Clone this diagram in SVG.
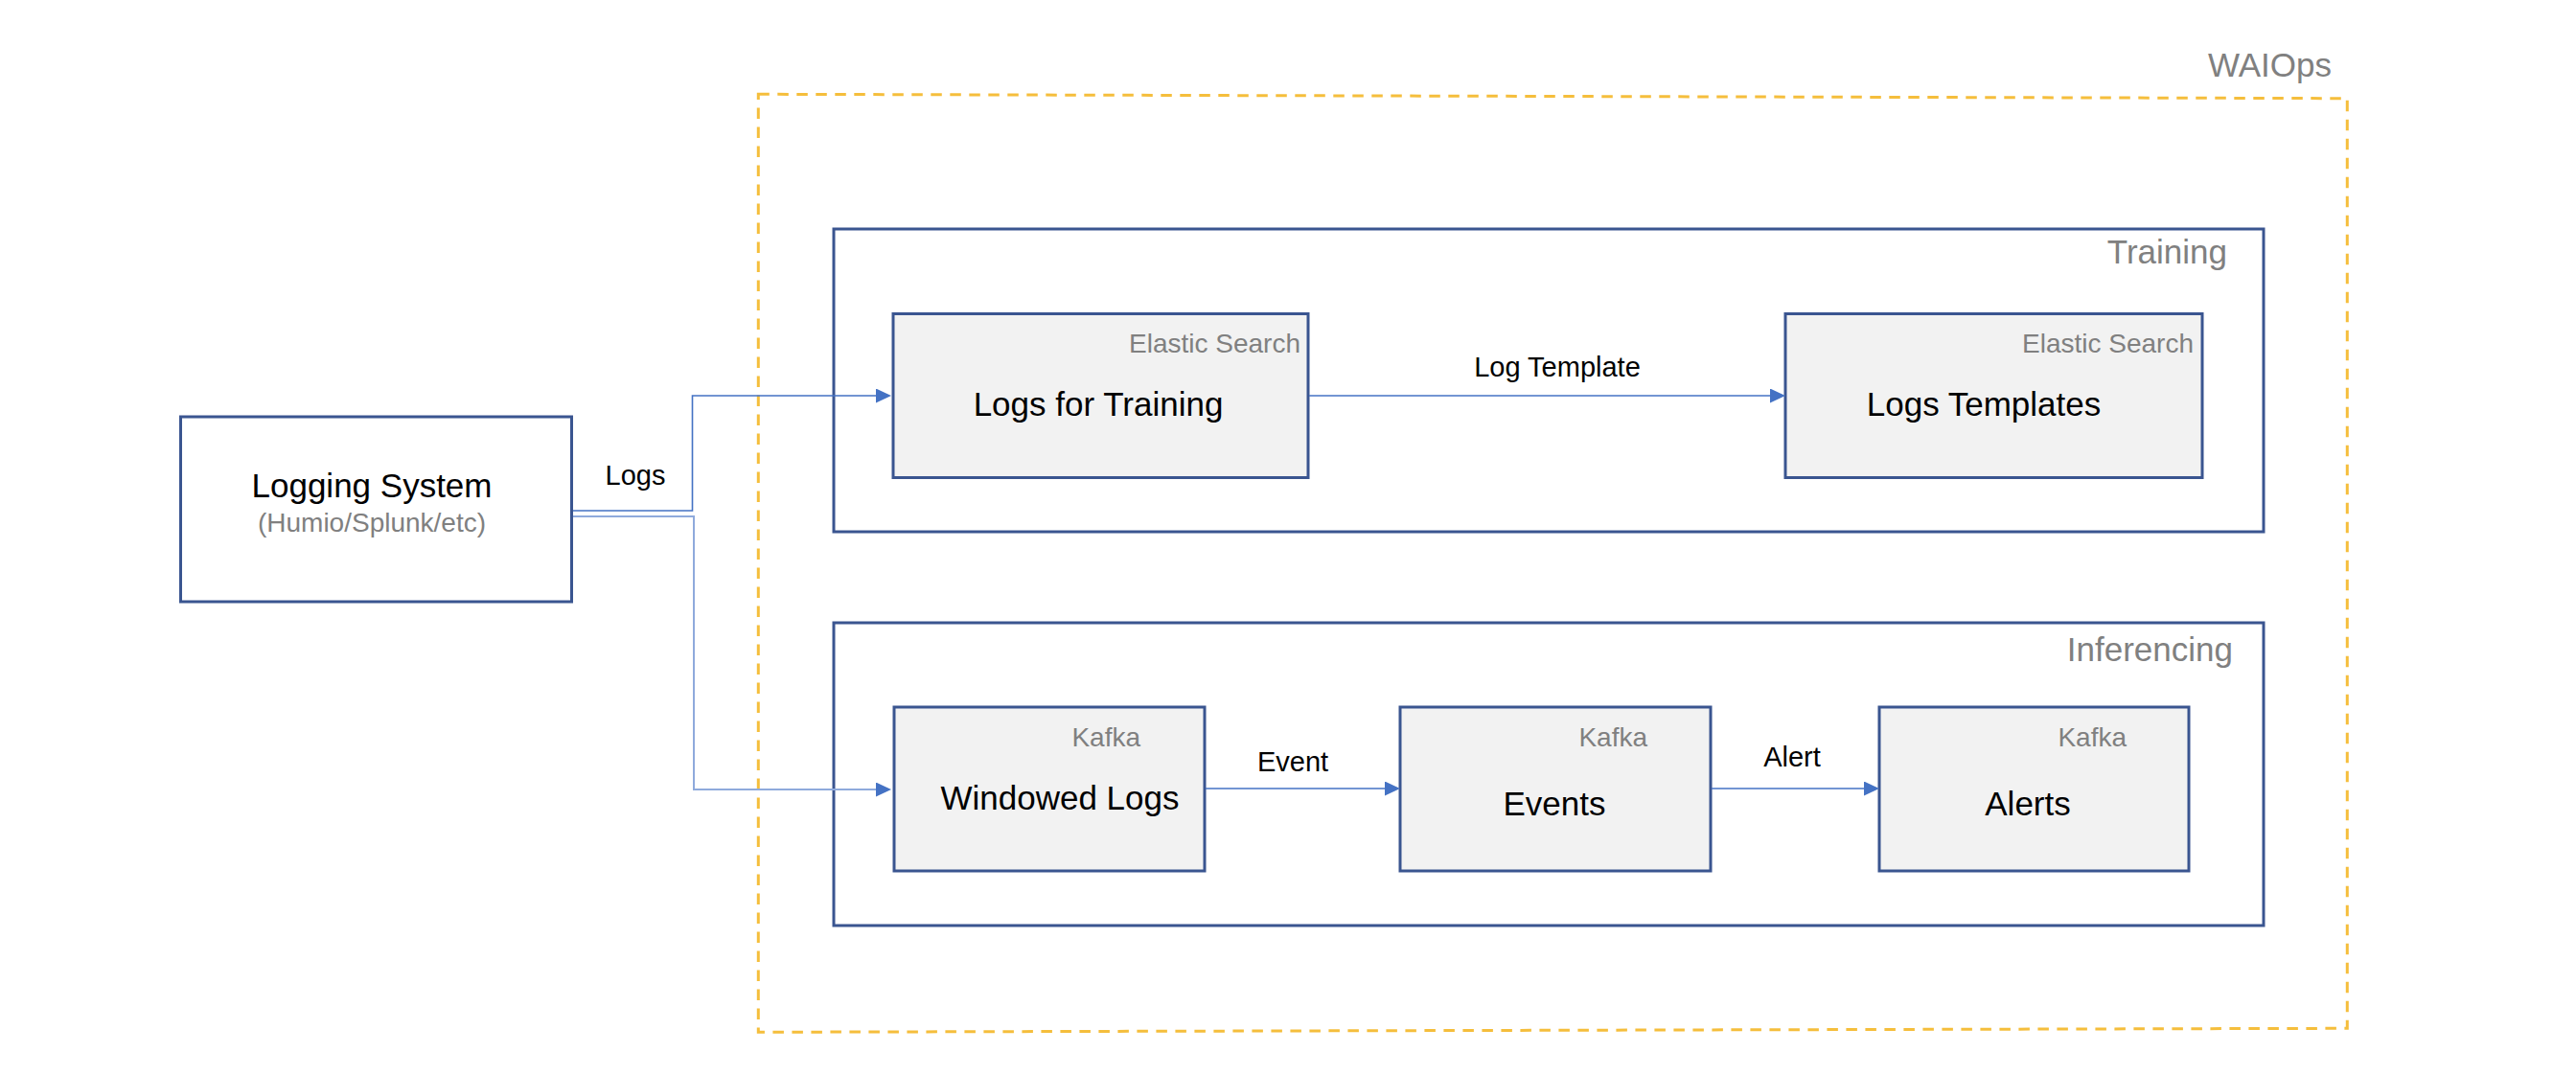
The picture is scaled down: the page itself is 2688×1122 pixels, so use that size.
<svg xmlns="http://www.w3.org/2000/svg" width="2688" height="1122" viewBox="0 0 2688 1122">
<style>
text{font-family:"Liberation Sans",Arial,sans-serif}
.box{fill:#F2F2F2;stroke:#3A5590;stroke-width:3}
.grp{fill:none;stroke:#3A5590;stroke-width:3}
.src{fill:#FFFFFF;stroke:#3A5590;stroke-width:3}
.main{font-size:35px;fill:#000000;text-anchor:middle}
.tag{font-size:28px;fill:#808080;text-anchor:end}
.glabel{font-size:35px;fill:#808080;text-anchor:end}
.elabel{font-size:29px;fill:#000000;text-anchor:middle}
.conn{fill:none;stroke:#4472C4;stroke-width:1.6}
.conn2{fill:none;stroke:#8FAADC;stroke-width:2}
</style>
<defs>
<marker id="arr" markerUnits="userSpaceOnUse" markerWidth="17" markerHeight="16" refX="0" refY="7.5" orient="auto">
<path d="M0,0 L16,7.5 L0,15 Z" fill="#4472C4"/>
</marker>
</defs>
<rect width="2688" height="1122" fill="#FFFFFF"/>

<g id="waiops">
<path d="M791.3,98.3 L2449.3,102.7 L2449.3,1073.3 L791.3,1077.3 Z" fill="none" stroke="#F5BE3C" stroke-width="3" stroke-dasharray="11.5 8.5"/>
<text x="2433" y="80" class="glabel" font-size="34">WAIOps</text>
</g>

<g id="training">
<rect x="870" y="239" width="1492" height="316" class="grp"/>
<text x="2324" y="275" class="glabel">Training</text>
</g>

<g id="inferencing">
<rect x="870" y="650" width="1492" height="316" class="grp"/>
<text x="2330" y="690" class="glabel">Inferencing</text>
</g>

<g id="logging-system">
<rect x="188.5" y="435" width="408" height="193" class="src"/>
<text x="388" y="519" class="main" font-size="34">Logging System</text>
<text x="388" y="555" font-size="28" fill="#808080" text-anchor="middle">(Humio/Splunk/etc)</text>
</g>

<g id="logs-for-training">
<rect x="932" y="327.5" width="433" height="171" class="box"/>
<text x="1357" y="368" class="tag" font-size="29">Elastic Search</text>
<text x="1146" y="434" class="main">Logs for Training</text>
</g>

<g id="logs-templates">
<rect x="1863" y="327.5" width="435" height="171" class="box"/>
<text x="2289" y="368" class="tag" font-size="29">Elastic Search</text>
<text x="2070" y="434" class="main" font-size="34">Logs Templates</text>
</g>

<g id="windowed-logs">
<rect x="933" y="738" width="324" height="171" class="box"/>
<text x="1190" y="779" class="tag">Kafka</text>
<text x="1106" y="845" class="main">Windowed Logs</text>
</g>

<g id="events">
<rect x="1461" y="738" width="324" height="171" class="box"/>
<text x="1719" y="779" class="tag">Kafka</text>
<text x="1622" y="851" class="main" font-size="34">Events</text>
</g>

<g id="alerts">
<rect x="1961" y="738" width="323" height="171" class="box"/>
<text x="2219" y="779" class="tag">Kafka</text>
<text x="2116" y="851" class="main">Alerts</text>
</g>

<g id="connectors">
<polyline points="598,533 722.5,533 722.5,413 914,413" class="conn" marker-end="url(#arr)"/>
<polyline points="598,539 724,539 724,824 914,824" class="conn2" marker-end="url(#arr)"/>
<line x1="1366" y1="413" x2="1847" y2="413" class="conn" marker-end="url(#arr)"/>
<line x1="1258" y1="823" x2="1445" y2="823" class="conn" marker-end="url(#arr)"/>
<line x1="1786" y1="823" x2="1945" y2="823" class="conn" marker-end="url(#arr)"/>
<text x="663" y="506" class="elabel" font-size="27">Logs</text>
<text x="1625" y="393" class="elabel">Log Template</text>
<text x="1349" y="805" class="elabel">Event</text>
<text x="1870" y="800" class="elabel">Alert</text>
</g>
</svg>
